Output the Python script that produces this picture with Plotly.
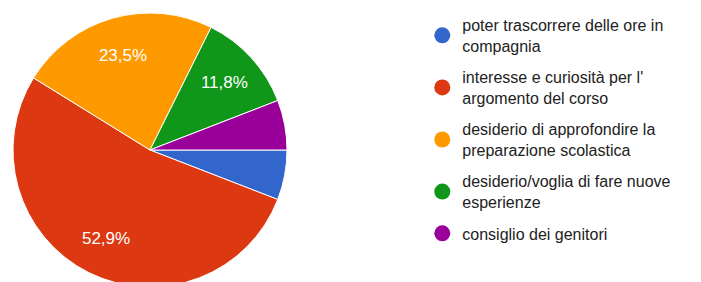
import plotly.graph_objects as go

categories = [
    "poter trascorrere delle ore in<br>compagnia",
    "interesse e curiosità per l'<br>argomento del corso",
    "desiderio di approfondire la<br>preparazione scolastica",
    "desiderio/voglia di fare nuove<br>esperienze",
    "consiglio dei genitori",
]
counts = [1, 9, 4, 2, 1]
colors = ["#3366CC", "#DC3912", "#FF9900", "#109618", "#990099"]

total = sum(counts)
texttemplates = ["%{percent:.1%}" if c / total > 0.1 else "" for c in counts]

pie_domain = dict(x=[5 / 701, 279 / 701], y=[3 / 282, 277 / 282])

fig = go.Figure()
# the pie itself
fig.add_trace(go.Pie(
    labels=categories,
    values=counts,
    sort=False,
    direction="clockwise",
    rotation=90,
    marker=dict(colors=colors, line=dict(color="white", width=1)),
    textinfo="none",
    showlegend=False,
    domain=pie_domain,
    hoverinfo="label+percent",
))
# percentage labels (transparent ring so labels sit further out, like the original)
fig.add_trace(go.Pie(
    labels=categories,
    values=counts,
    sort=False,
    direction="clockwise",
    rotation=90,
    hole=0.44,
    marker=dict(colors=["rgba(0,0,0,0)"] * len(counts), line=dict(width=0)),
    texttemplate=texttemplates,
    textposition="inside",
    insidetextorientation="horizontal",
    textfont=dict(color="white", size=17, family="Liberation Sans, Arial"),
    showlegend=False,
    domain=pie_domain,
    hoverinfo="skip",
))

for name, col in zip(categories, colors):
    fig.add_trace(go.Scatter(
        x=[None], y=[None], mode="markers", name=name,
        marker=dict(color=col, size=16, symbol="circle"),
        legendgroup=name, showlegend=True,
    ))

fig.update_layout(
    width=701, height=282,
    margin=dict(l=0, r=0, t=0, b=0),
    paper_bgcolor="white", plot_bgcolor="white",
    separators=",.",
    xaxis=dict(visible=False), yaxis=dict(visible=False),
    legend=dict(
        x=0.591, y=1, xanchor="left", yanchor="top",
        font=dict(size=16, color="#222222", family="Liberation Sans, Arial"),
        tracegroupgap=7.5, itemwidth=30,
    ),
)

fig.write_html("out.html")
